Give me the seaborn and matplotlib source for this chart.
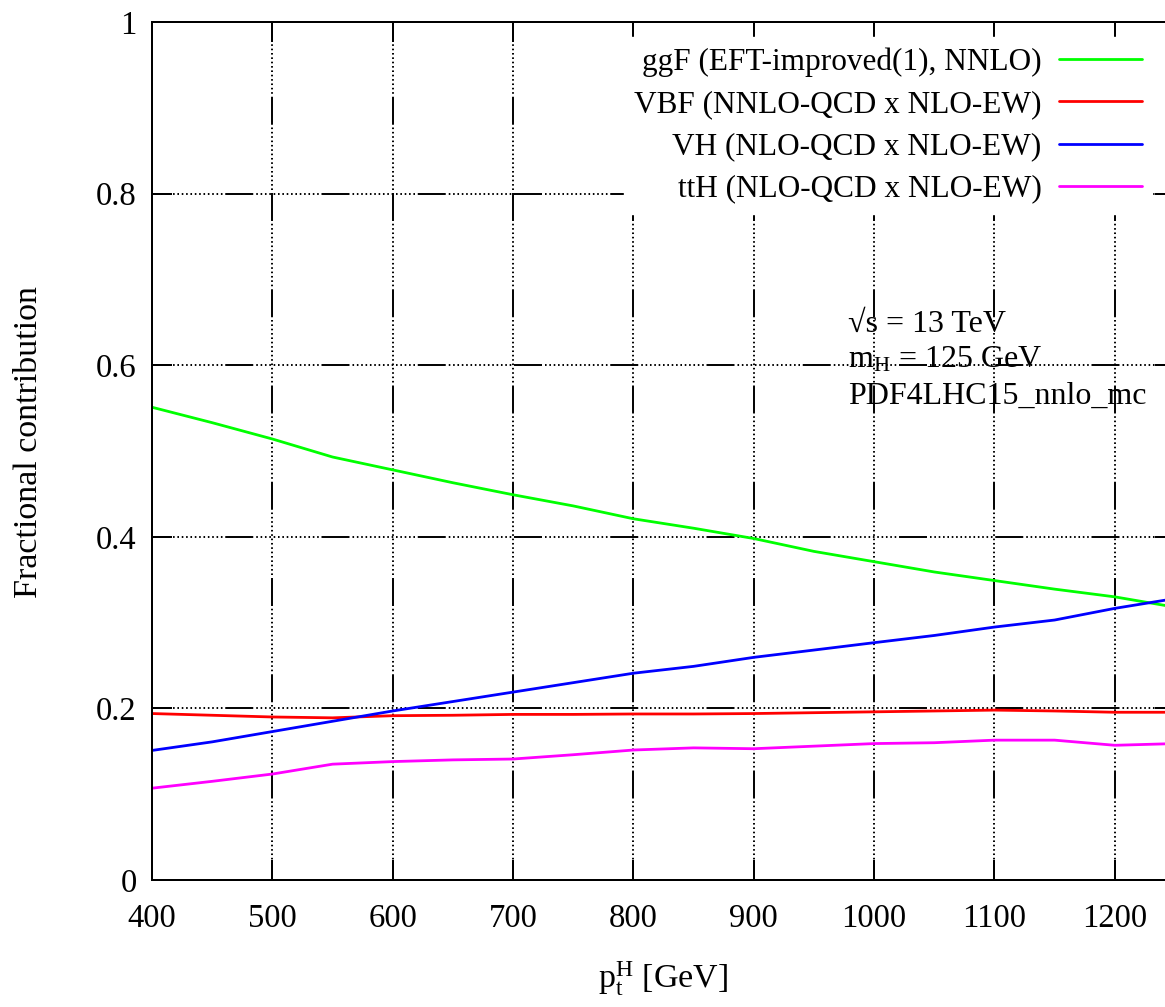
import numpy as np
import pandas as pd
import seaborn as sns
import matplotlib.pyplot as plt

# values
pt_h = [400, 450, 500, 550, 600, 650, 700, 750, 800, 850, 900, 950, 1000, 1050, 1100, 1150, 1200, 1250]
ggf = [0.551, 0.533, 0.514, 0.493, 0.478, 0.463, 0.449, 0.436, 0.421, 0.410, 0.398, 0.383, 0.371, 0.359, 0.349, 0.339, 0.330, 0.318]
vbf = [0.194, 0.192, 0.190, 0.189, 0.1915, 0.192, 0.193, 0.193, 0.1935, 0.1935, 0.194, 0.195, 0.196, 0.197, 0.198, 0.197, 0.1955, 0.1955]
vh = [0.151, 0.161, 0.173, 0.185, 0.197, 0.208, 0.219, 0.230, 0.241, 0.249, 0.2595, 0.268, 0.2766, 0.285, 0.2948, 0.303, 0.3166, 0.328]
tth = [0.107, 0.115, 0.1235, 0.135, 0.138, 0.140, 0.141, 0.146, 0.1515, 0.154, 0.153, 0.156, 0.159, 0.160, 0.163, 0.163, 0.157, 0.159]

series_names = ["ggF (EFT-improved(1), NNLO)", "VBF (NNLO-QCD x NLO-EW)",
                "VH (NLO-QCD x NLO-EW)", "ttH (NLO-QCD x NLO-EW)"]
series_colors = ["#00ff00", "#ff0000", "#0000ff", "#ff00ff"]

x_ticks = [400, 500, 600, 700, 800, 900, 1000, 1100, 1200]
y_ticks = [0, 0.2, 0.4, 0.6, 0.8, 1]
y_ticklabels = ["0", "0.2", "0.4", "0.6", "0.8", "1"]
info_lines = ["√s = 13 TeV", r"m$_\mathrm{H}$ = 125 GeV", "PDF4LHC15_nnlo_mc"]

sns.set_style("ticks")
plt.rcParams['font.family'] = ['Liberation Serif', 'DejaVu Serif']
plt.rcParams['mathtext.fontset'] = 'custom'
plt.rcParams['mathtext.rm'] = 'Liberation Serif'
plt.rcParams['mathtext.it'] = 'Liberation Serif:italic'
plt.rcParams['lines.scale_dashes'] = False
plt.rcParams['text.color'] = 'black'
plt.rcParams['axes.labelcolor'] = 'black'

px = 0.72  # points per pixel at 100 dpi
# gnuplot-like grid: one long dash followed by a row of dots
grid_pattern = [28 * px, 3 * px] + [1.6 * px, 2.75 * px] * 24

df = pd.DataFrame({'pt': pt_h, series_names[0]: ggf, series_names[1]: vbf,
                   series_names[2]: vh, series_names[3]: tth})
df = df.melt(id_vars='pt', var_name='process', value_name='frac')

fig = plt.figure(figsize=(11.65, 10.07), dpi=100)
ax = fig.add_axes([152 / 1165, 127 / 1007, 1023 / 1165, 858 / 1007])

sns.lineplot(data=df, x='pt', y='frac', hue='process', hue_order=series_names,
             palette=dict(zip(series_names, series_colors)), linewidth=2, ax=ax)

ax.set_xlim(400, 1250)
ax.set_ylim(0, 1)
ax.set_xticks(x_ticks)
ax.set_xticklabels([str(t) for t in x_ticks])
ax.set_yticks(y_ticks)
ax.set_yticklabels(y_ticklabels)

ax.xaxis.grid(True, color='black', linewidth=1.4, linestyle=(111 * px, grid_pattern))
ax.yaxis.grid(True, color='black', linewidth=1.4, linestyle=(23 * px, grid_pattern))

ax.tick_params(axis='both', which='major', direction='in', length=14.4, width=1.44,
               top=True, right=True, labelsize=23.5, colors='black')
ax.tick_params(axis='x', pad=17)
ax.tick_params(axis='y', pad=11)
for s in ax.spines.values():
    s.set_linewidth(1.44)
    s.set_color('black')

ax.set_xlabel(r"p$_\mathrm{t}^\mathrm{H}$ [GeV]", fontsize=24.5)
ax.xaxis.set_label_coords(0.5, -0.093)
ax.set_ylabel("Fractional contribution", fontsize=24.5)
ax.yaxis.set_label_coords(-0.106, 0.51)

handles, labels = ax.get_legend_handles_labels()
leg = ax.legend(handles, labels, loc='upper right', bbox_to_anchor=(0.9775, 0.982),
                markerfirst=False, frameon=True, fancybox=False, framealpha=1,
                edgecolor='white', facecolor='white', fontsize=22.5, handlelength=2.65,
                handletextpad=0.55, labelspacing=0.42, borderpad=0.33, borderaxespad=0)
for h in leg.get_lines():
    h.set_linewidth(2)

for i, line in enumerate(info_lines):
    ax.text(0.68, 0.648 - i * 36 / 858, line, transform=ax.transAxes,
            fontsize=23, ha='left', va='center')

fig.savefig('out.png', dpi=100)
